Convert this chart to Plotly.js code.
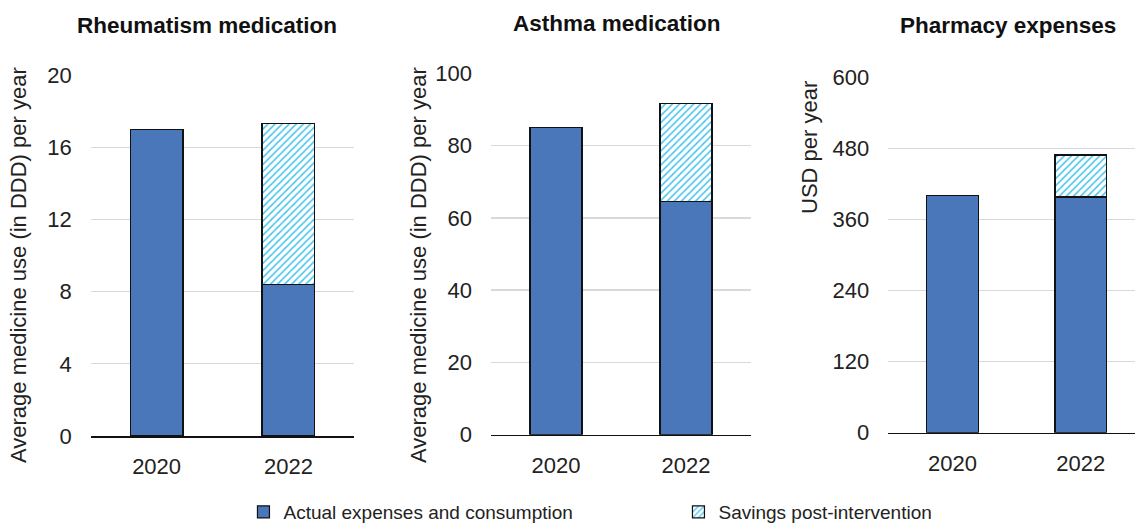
<!DOCTYPE html>
<html>
<head>
<meta charset="utf-8">
<script src="https://cdn.plot.ly/plotly-3.0.1.min.js"></script>
<style>html,body{margin:0;padding:0;background:#fff}#chart{width:1135px;height:524px}</style>
</head>
<body>
<div id="chart"></div>
<script>
const years = ["2020", "2022"];
const panelTitles = ["Rheumatism medication", "Asthma medication", "Pharmacy expenses"];
const yTitles = ["Average medicine use (in DDD) per year", "Average medicine use (in DDD) per year", "USD per year"];
const seriesNames = ["Actual expenses and consumption", "Savings post-intervention"];

const rheumActual = [17.0, 8.4];
const rheumSavings = [null, 8.9];
const asthmaActual = [85.0, 64.6];
const asthmaSavings = [null, 27.0];
const pharmActual = [400, 398];
const pharmSavings = [null, 71];

const rheumTicks = [0, 4, 8, 12, 16, 20];
const asthmaTicks = [0, 20, 40, 60, 80, 100];
const pharmTicks = [0, 120, 240, 360, 480, 600];

const BLUE = "#4A77BA";
const HATCH = "#45C3EE";
const FONT = "Liberation Sans, Arial, sans-serif";

const panels = [
  {actual: rheumActual, savings: rheumSavings, ticks: rheumTicks},
  {actual: asthmaActual, savings: asthmaSavings, ticks: asthmaTicks},
  {actual: pharmActual, savings: pharmSavings, ticks: pharmTicks}
];

const traces = [];
panels.forEach((p, i) => {
  const xa = i === 0 ? "x" : "x" + (i + 1);
  const ya = i === 0 ? "y" : "y" + (i + 1);
  traces.push({
    type: "bar", x: years, y: p.actual, name: seriesNames[0], xaxis: xa, yaxis: ya,
    legendgroup: "a", showlegend: i === 0,
    marker: {color: BLUE, line: {color: "#111", width: 1.2}},
    hoverinfo: "y"
  });
  traces.push({
    type: "bar", x: years, y: p.savings, name: seriesNames[1], xaxis: xa, yaxis: ya,
    legendgroup: "b", showlegend: i === 0,
    marker: {color: "white", line: {color: "#111", width: 1.2},
      pattern: {shape: "/", fgcolor: HATCH, bgcolor: "white", size: 5, solidity: 0.3}},
    hoverinfo: "y"
  });
});

const W = 1135, H = 524;
const px = v => v / W;
const py = v => (H - v) / H;

const xDomains = [[px(90.7), px(354.3)], [px(491), px(751)], [px(888.3), 1]];
const yDomains = [[py(436), py(75)], [py(434.7), py(73.3)], [py(432.7), py(77.3)]];
const xRanges = [[-0.5, 1.5], [-0.5, 1.5], [-0.5, 1.423]];

const layout = {
  width: W, height: H,
  margin: {l: 0, r: 0, t: 0, b: 0, autoexpand: false},
  paper_bgcolor: "white", plot_bgcolor: "white",
  font: {family: FONT, size: 22, color: "#222"},
  barmode: "stack", bargap: 0.6,
  showlegend: true,
  legend: {
    orientation: "h", x: 0.2145, xanchor: "left", y: py(512), yanchor: "middle",
    font: {family: FONT, size: 19, color: "#222"},
    entrywidth: 390, entrywidthmode: "pixels",
    traceorder: "normal", itemclick: false, itemdoubleclick: false
  },
  annotations: [],
  hovermode: false
};

panels.forEach((p, i) => {
  const sfx = i === 0 ? "" : String(i + 1);
  layout["xaxis" + sfx] = {
    domain: xDomains[i], anchor: "y" + sfx, type: "category",
    range: xRanges[i], showgrid: false, zeroline: false,
    showline: true, linecolor: "#111", linewidth: 1.5,
    ticks: "", ticklabelstandoff: 10, fixedrange: true,
    tickfont: {family: FONT, size: 22, color: "#222"}
  };
  layout["yaxis" + sfx] = {
    domain: yDomains[i], anchor: "x" + sfx,
    range: [0, p.ticks[p.ticks.length - 1]],
    tickmode: "array", tickvals: p.ticks, ticktext: p.ticks.map(String),
    showgrid: true, gridcolor: "#D9D9D9", gridwidth: 1.3,
    zeroline: false, showline: false, ticks: "", ticklabelstandoff: 18, fixedrange: true,
    tickfont: {family: FONT, size: 22, color: "#222"}
  };
});

const titlePos = [[206.7, 25], [616.7, 24], [1008, 25]];
panelTitles.forEach((t, i) => {
  layout.annotations.push({
    text: "<b>" + t + "</b>", xref: "paper", yref: "paper",
    x: px(titlePos[i][0]), y: py(titlePos[i][1]), xanchor: "center", yanchor: "middle",
    showarrow: false, font: {family: FONT, size: 22.5, color: "#111"}
  });
});

const yTitlePos = [[18, 265], [418, 265], [809, 148]];
yTitles.forEach((t, i) => {
  layout.annotations.push({
    text: t, xref: "paper", yref: "paper", textangle: -90,
    x: px(yTitlePos[i][0]), y: py(yTitlePos[i][1]), xanchor: "center", yanchor: "middle",
    showarrow: false, font: {family: FONT, size: 22, color: "#222"}
  });
});

Plotly.newPlot("chart", traces, layout, {displayModeBar: false, staticPlot: true});
</script>
</body>
</html>
